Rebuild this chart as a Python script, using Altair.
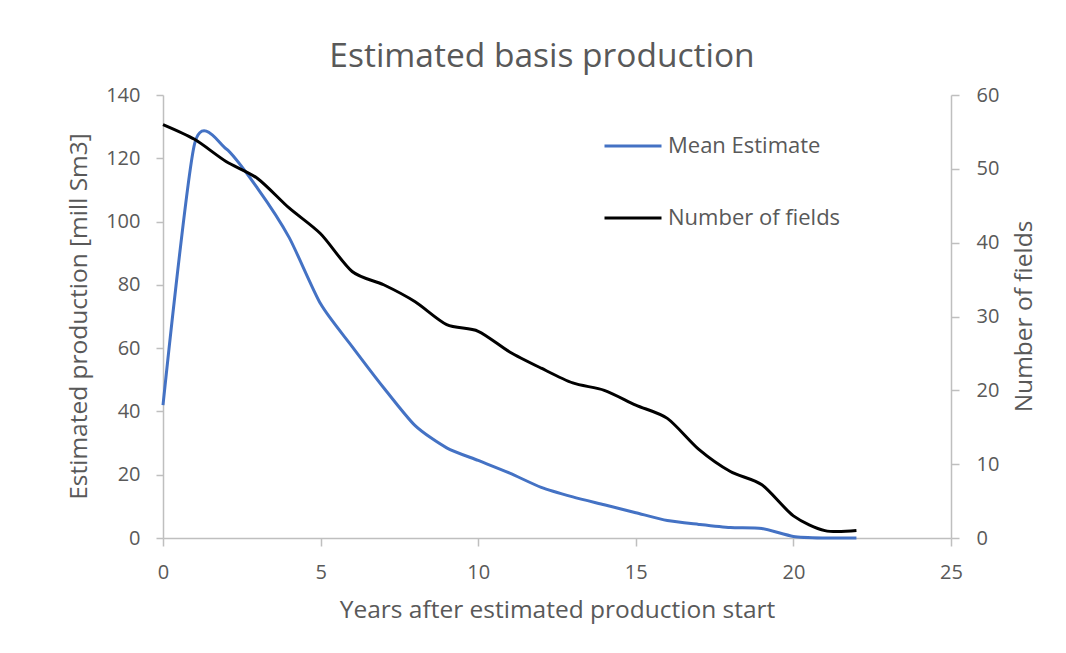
import altair as alt
import pandas as pd

years = list(range(0, 23))
mean_estimate = [42, 124.5, 123, 110.5, 95, 74, 60.5, 47.5, 35.5, 28.5, 24.5, 20.5,
                 16, 13, 10.5, 8, 5.5, 4.3, 3.3, 3, 0.5, 0, 0]
number_of_fields = [56, 54, 51, 48.7, 44.7, 41.2, 36.1, 34.3, 32, 28.9, 28, 25.2,
                    23, 21, 20, 18, 16.2, 12, 9, 7.2, 3, 1, 1]

series_names = ["Mean Estimate", "Number of fields"]
series_colors = ["#4472C4", "#000000"]

df = pd.DataFrame({
    "year": years * 2,
    "value": mean_estimate + number_of_fields,
    "series": [series_names[0]] * len(years) + [series_names[1]] * len(years),
})

FONT = "Open Sans"
GREY = "#595959"
AXISGREY = "#BFBFBF"

color = alt.Color(
    "series:N",
    scale=alt.Scale(domain=series_names, range=series_colors),
    legend=alt.Legend(
        title=None, orient="none", legendX=440, legendY=21,
        symbolType="stroke", symbolSize=3249, symbolStrokeWidth=3,
        labelFontSize=22, labelColor=GREY, labelFont=FONT, labelOffset=5,
        labelLimit=400, rowPadding=31,
    ),
)

x = alt.X(
    "year:Q",
    scale=alt.Scale(domain=[0, 25], nice=False),
    axis=alt.Axis(
        title="Years after estimated production start", values=[0, 5, 10, 15, 20, 25],
        grid=False, tickSize=8, labelPadding=16,
        titleX=394, titleY=72, titleBaseline="middle", titleAlign="center",
    ),
)

left = alt.Chart(df).transform_filter(
    alt.datum.series == series_names[0]
).mark_line(interpolate="cardinal", tension=0.3, strokeWidth=3).encode(
    x=x,
    y=alt.Y(
        "value:Q",
        scale=alt.Scale(domain=[0, 140], nice=False),
        axis=alt.Axis(
            title="Estimated production [mill Sm3]", orient="left",
            values=list(range(0, 141, 20)), grid=False, tickSize=7,
            labelPadding=16, titleX=-84, titleY=221, titleAngle=270,
            titleBaseline="middle", titleAlign="center",
        ),
    ),
    color=color,
)

right = alt.Chart(df).transform_filter(
    alt.datum.series == series_names[1]
).mark_line(interpolate="cardinal", tension=0.2, strokeWidth=3).encode(
    x=x,
    y=alt.Y(
        "value:Q",
        scale=alt.Scale(domain=[0, 60], nice=False),
        axis=alt.Axis(
            title="Number of fields", orient="right",
            values=list(range(0, 61, 10)), grid=False, tickSize=8,
            labelPadding=17, titleX=73, titleY=221, titleAngle=270,
            titleBaseline="middle", titleAlign="center",
        ),
    ),
    color=color,
)

chart = alt.layer(left, right).resolve_scale(y="independent").properties(
    width=788,
    height=443,
    background="white",
    title=alt.Title("Estimated basis production", fontSize=33.5, font=FONT,
                    color=GREY, fontWeight="normal", offset=11, dx=-15),
    autosize=alt.AutoSizeParams(type="none"),
    padding={"left": 163, "top": 95, "right": 115, "bottom": 115},
).configure_view(stroke=None).configure_axis(
    domainColor=AXISGREY, tickColor=AXISGREY, domainWidth=1.5, tickWidth=1.5,
    labelFont=FONT, labelFontSize=20, labelColor=GREY, labelFlush=False,
    titleFont=FONT, titleFontSize=24.5, titleColor=GREY, titleFontWeight="normal",
)

chart.save("out.html", embed_options={"renderer": "svg", "actions": False})
